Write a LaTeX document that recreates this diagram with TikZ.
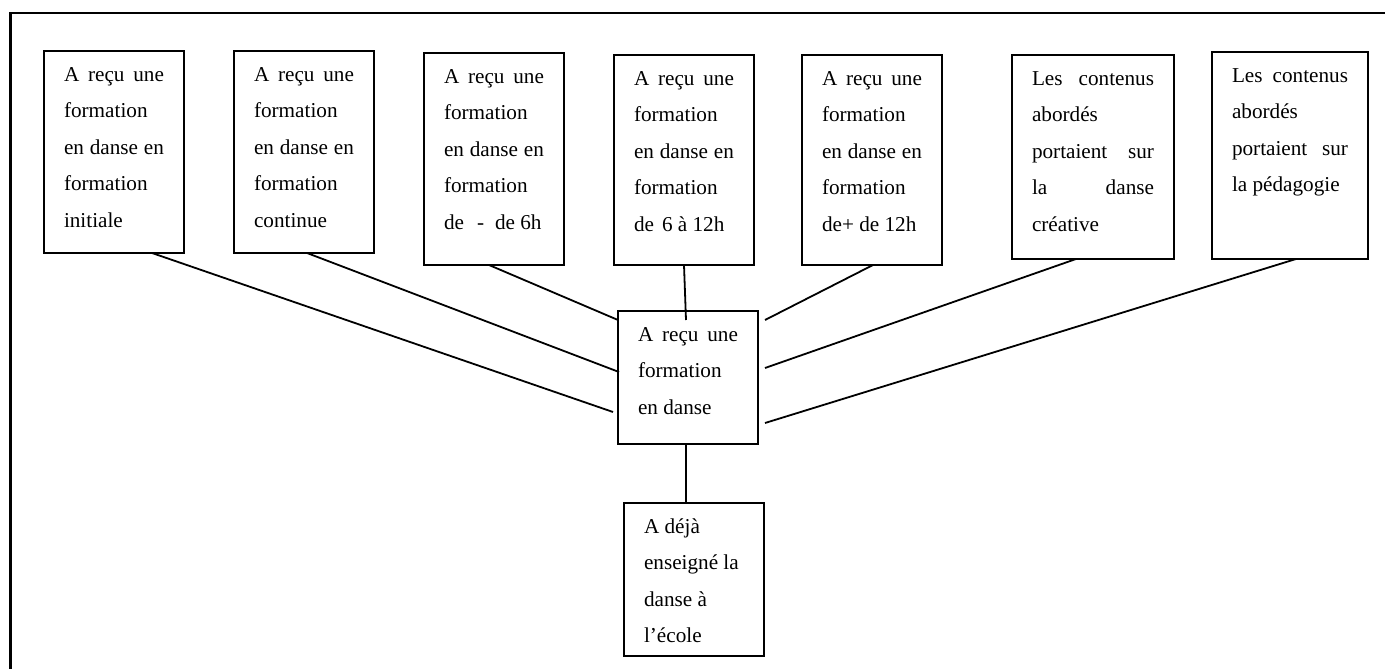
\documentclass[tikz,border=0pt]{standalone}
\usepackage{fontspec}
\setmainfont{Liberation Serif}
\usetikzlibrary{calc}
\newcommand{\boxtxt}[3]{\parbox[c][#1][t]{#2}{\fontsize{21.2pt}{36.6pt}\selectfont\rule{0pt}{30pt}#3}}
\newcommand{\jl}[1]{\makebox[\linewidth][s]{#1}}
\begin{document}
\begin{tikzpicture}[x=1pt,y=-1pt,
  box/.style={draw, line width=1.2pt, anchor=north west, inner xsep=20pt, inner ysep=0pt, outer sep=0pt},
  link/.style={line width=1.8pt}]
\useasboundingbox (0,0) rectangle (1385,669);
\draw[line width=2.8pt] (10.5,669) -- (10.5,13) -- (1385,13);

\node[box] (b1) at (44,51) {\boxtxt{202pt}{100pt}{\jl{A reçu une}\\formation\\\jl{en danse en}\\formation\\initiale}};
\node[box] (b2) at (234,51) {\boxtxt{202pt}{100pt}{\jl{A reçu une}\\formation\\\jl{en danse en}\\formation\\continue}};
\node[box] (b3) at (424,53) {\boxtxt{212pt}{100pt}{\jl{A reçu une}\\formation\\\jl{en danse en}\\formation\\de\hspace{13pt}-\hspace{11pt}de 6h}};
\node[box] (b4) at (614,55) {\boxtxt{210pt}{100pt}{\jl{A reçu une}\\formation\\\jl{en danse en}\\formation\\de\hspace{8pt}6 à 12h}};
\node[box] (b5) at (802,55) {\boxtxt{210pt}{100pt}{\jl{A reçu une}\\formation\\\jl{en danse en}\\formation\\de+ de 12h}};
\node[box] (b6) at (1012,55) {\boxtxt{204pt}{122pt}{\jl{Les contenus}\\abordés\\\jl{portaient sur}\\\jl{la danse}\\créative}};
\node[box] (b7) at (1212,52) {\boxtxt{207pt}{116pt}{\jl{Les contenus}\\abordés\\\jl{portaient sur}\\la pédagogie}};

\node[box] (c) at (618,311) {\boxtxt{133pt}{100pt}{\jl{A reçu une}\\formation\\en danse}};
\node[box] (d) at (624,503) {\boxtxt{153pt}{100pt}{A déjà\\enseigné la\\danse à\\l’école}};

\draw[link] ($(b1.south west)+(108,0)$) -- ($(c.north west)+(-5,101)$);
\draw[link] ($(b2.south west)+(73,0)$) -- ($(c.north west)+(1,61)$);
\draw[link] ($(b3.south west)+(65,0)$) -- ($(c.north west)+(0,9)$);
\draw[link] ($(b4.south west)+(70,0)$) -- ($(c.north west)+(68,9)$);
\draw[link] ($(b5.south west)+(71,0)$) -- ($(c.north east)+(7,9)$);
\draw[link] ($(b6.south west)+(64,0)$) -- ($(c.north east)+(7,57)$);
\draw[link] ($(b7.south west)+(84,0)$) -- ($(c.north east)+(7,112)$);
\draw[link] ($(c.south west)+(68,0)$) -- ($(d.north west)+(62,0)$);
\end{tikzpicture}
\end{document}
